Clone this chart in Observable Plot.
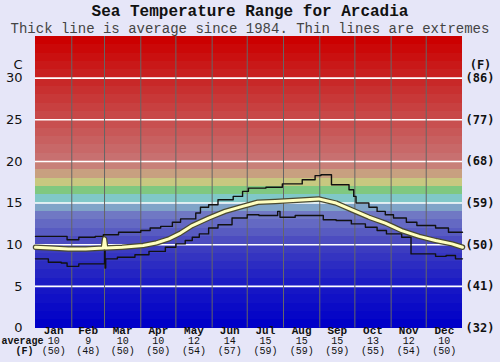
<!DOCTYPE html>
<html><head><meta charset="utf-8">
<script src="https://cdn.jsdelivr.net/npm/d3@7"></script>
<script src="https://cdn.jsdelivr.net/npm/@observablehq/plot@0.6"></script>
<style>
html,body{margin:0;padding:0;background:#e6e6f8;}
body{width:500px;height:362px;overflow:hidden;position:relative;color:#111;}
#t{position:absolute;left:0;top:3px;width:500px;text-align:center;font:bold 16px "Liberation Mono",monospace;line-height:18px;height:18px;color:#111;}
#s{position:absolute;left:0;top:22px;width:500px;text-align:center;font:14px "Liberation Mono",monospace;line-height:14px;height:14px;color:#444;white-space:nowrap;}
#c{position:absolute;left:0;top:32px;}
</style></head><body>
<div id="t">Sea Temperature Range for Arcadia</div>
<div id="s">Thick line is average since 1984. Thin lines are extremes</div>
<div id="c"></div>
<script>
// ---- data ----
const months = ["Jan","Feb","Mar","Apr","May","Jun","Jul","Aug","Sep","Oct","Nov","Dec"];
const monthAvgC = [10,9,10,10,12,14,15,15,15,13,12,10];
const monthAvgF = [50,48,50,50,54,57,59,59,59,55,54,50];
const monthStarts = [0,31,59,90,120,151,181,212,243,273,304,334,365];
const yTicks = [0,5,10,15,20,25,30];

const maxDay  = [0,27,37,51,58,71,90,98,107,117,124,137,141,148,156,169,177,182,197,211,228,239,244,253,268,272,274,285,292,299,306,317,326,342,353,365];
const maxTemp = [11.0,10.6,10.9,11.0,11.2,11.5,11.7,12.0,12.2,12.7,13.1,13.8,14.5,14.8,15.4,15.8,16.4,16.8,16.9,17.3,17.8,18.3,18.4,17.2,16.6,15.8,15.0,14.5,14.0,13.6,13.2,12.7,12.3,12.0,11.5,11.5];

const minDay  = [0,11,22,27,37,59,59.5,60,70,85,97,111,120,128,134,140,148,156,168,181,191,207,209,222,246,257,270,282,292,300,313,321,342,351,359,365];
const minTemp = [8.3,7.9,7.8,7.4,7.7,9.6,7.2,8.3,8.5,8.8,9.2,9.7,10.1,10.5,10.9,11.3,12.0,12.4,13.2,13.6,13.5,14.0,13.3,13.5,13.0,12.9,12.5,12.1,11.7,11.3,10.9,8.9,8.6,8.7,8.3,8.3];

const avgDay  = [0,13,28,43,58,59,60,74,92,103,114,124,134,148,162,177,190,205,220,231,242,257,270,285,299,313,328,342,356,365];
const avgTemp = [9.7,9.6,9.5,9.5,9.6,10.7,9.6,9.7,9.9,10.2,10.7,11.4,12.3,13.2,14.0,14.6,15.1,15.2,15.3,15.4,15.5,15.0,14.2,13.3,12.6,11.7,11.0,10.5,10.1,9.7];

const bandLevels = d3.range(0, 35);

// ---- styles ----
const bandColor = d3.scaleLinear()
  .domain([0,5,9,10,13,14,15,16,17,18,19,20,25,30,34])
  .range(["#0000c8","#1c1cc4","#3c3cc0","#4c4cc0","#7078c4","#80a4c8","#80c8c8","#80c880","#c8c880","#c8a080","#c88078","#c87070","#c84848","#c82020","#cc0000"]);

const maxData = maxDay.map((d,i)=>({day:d, t:maxTemp[i]}));
const minData = minDay.map((d,i)=>({day:d, t:minTemp[i]}));
const avgData = avgDay.map((d,i)=>({day:d, t:avgTemp[i]}));
const monthData = months.map((m,i)=>({m, mid:(monthStarts[i]+monthStarts[i+1])/2, c:monthAvgC[i], f:monthAvgF[i]}));

const mono = "Liberation Mono";
const chart = Plot.plot({
  width: 500, height: 330,
  marginLeft: 35, marginRight: 38, marginTop: 4, marginBottom: 34.5,
  style: {background: "transparent", color: "#111", overflow: "visible"},
  x: {domain: [0, 365], axis: null},
  y: {domain: [0, 35], axis: null},
  marks: [
    Plot.rect(bandLevels, {x1: 0, x2: 365, y1: d=>d, y2: d=>d+1, fill: d=>bandColor(d), shapeRendering: "crispEdges"}),
    Plot.ruleY(yTicks.slice(1), {stroke: "white", strokeWidth: 1.6}),
    Plot.ruleX(monthStarts.slice(1,-1), {stroke: "#666", strokeWidth: 1}),
    Plot.line(maxData, {x: "day", y: "t", curve: "step-after", stroke: "#111", strokeWidth: 1.4}),
    Plot.line(minData, {x: "day", y: "t", curve: "step-after", stroke: "#111", strokeWidth: 1.4}),
    Plot.line(avgData, {x: "day", y: "t", stroke: "#4a4a30", strokeWidth: 5.5, strokeLinejoin: "round"}),
    Plot.line(avgData, {x: "day", y: "t", stroke: "#ffffc0", strokeWidth: 3, strokeLinejoin: "round"}),
    Plot.axisY(yTicks, {anchor: "left", tickSize: 0, tickPadding: 13, fontSize: 13, fontFamily: "DejaVu Sans", label: null}),
    Plot.axisY(yTicks, {anchor: "right", tickSize: 0, tickPadding: 3, fontSize: 12, fontFamily: "DejaVu Sans Mono", fontWeight: "bold", label: null, tickFormat: d => `(${Math.round(d*9/5+32)})`}),
    Plot.text(["C"], {frameAnchor: "top-left", dx: -13, dy: 23, textAnchor: "end", fontSize: 13, fontFamily: "DejaVu Sans"}),
    Plot.text(["(F)"], {frameAnchor: "top-right", dx: 18, dy: 24, textAnchor: "middle", fontSize: 12, fontFamily: "DejaVu Sans Mono", fontWeight: "bold"}),
    Plot.text(monthData, {x: "mid", text: "m", frameAnchor: "bottom", dy: 5.5, fontSize: 11, fontWeight: "bold", fontFamily: mono}),
    Plot.text(monthData, {x: "mid", text: d=>String(d.c), frameAnchor: "bottom", dy: 16, fontSize: 10, fontFamily: mono}),
    Plot.text(monthData, {x: "mid", text: d=>`(${d.f})`, frameAnchor: "bottom", dy: 25.5, fontSize: 10, fontFamily: mono}),
    Plot.text(["average"], {frameAnchor: "bottom-left", dx: -13, dy: 16, textAnchor: "middle", fontSize: 10, fontWeight: "bold", fontFamily: mono}),
    Plot.text(["(F)"], {frameAnchor: "bottom-left", dx: -11, dy: 25.5, textAnchor: "middle", fontSize: 10, fontWeight: "bold", fontFamily: mono})
  ]
});
document.getElementById("c").appendChild(chart);
</script>
</body></html>
